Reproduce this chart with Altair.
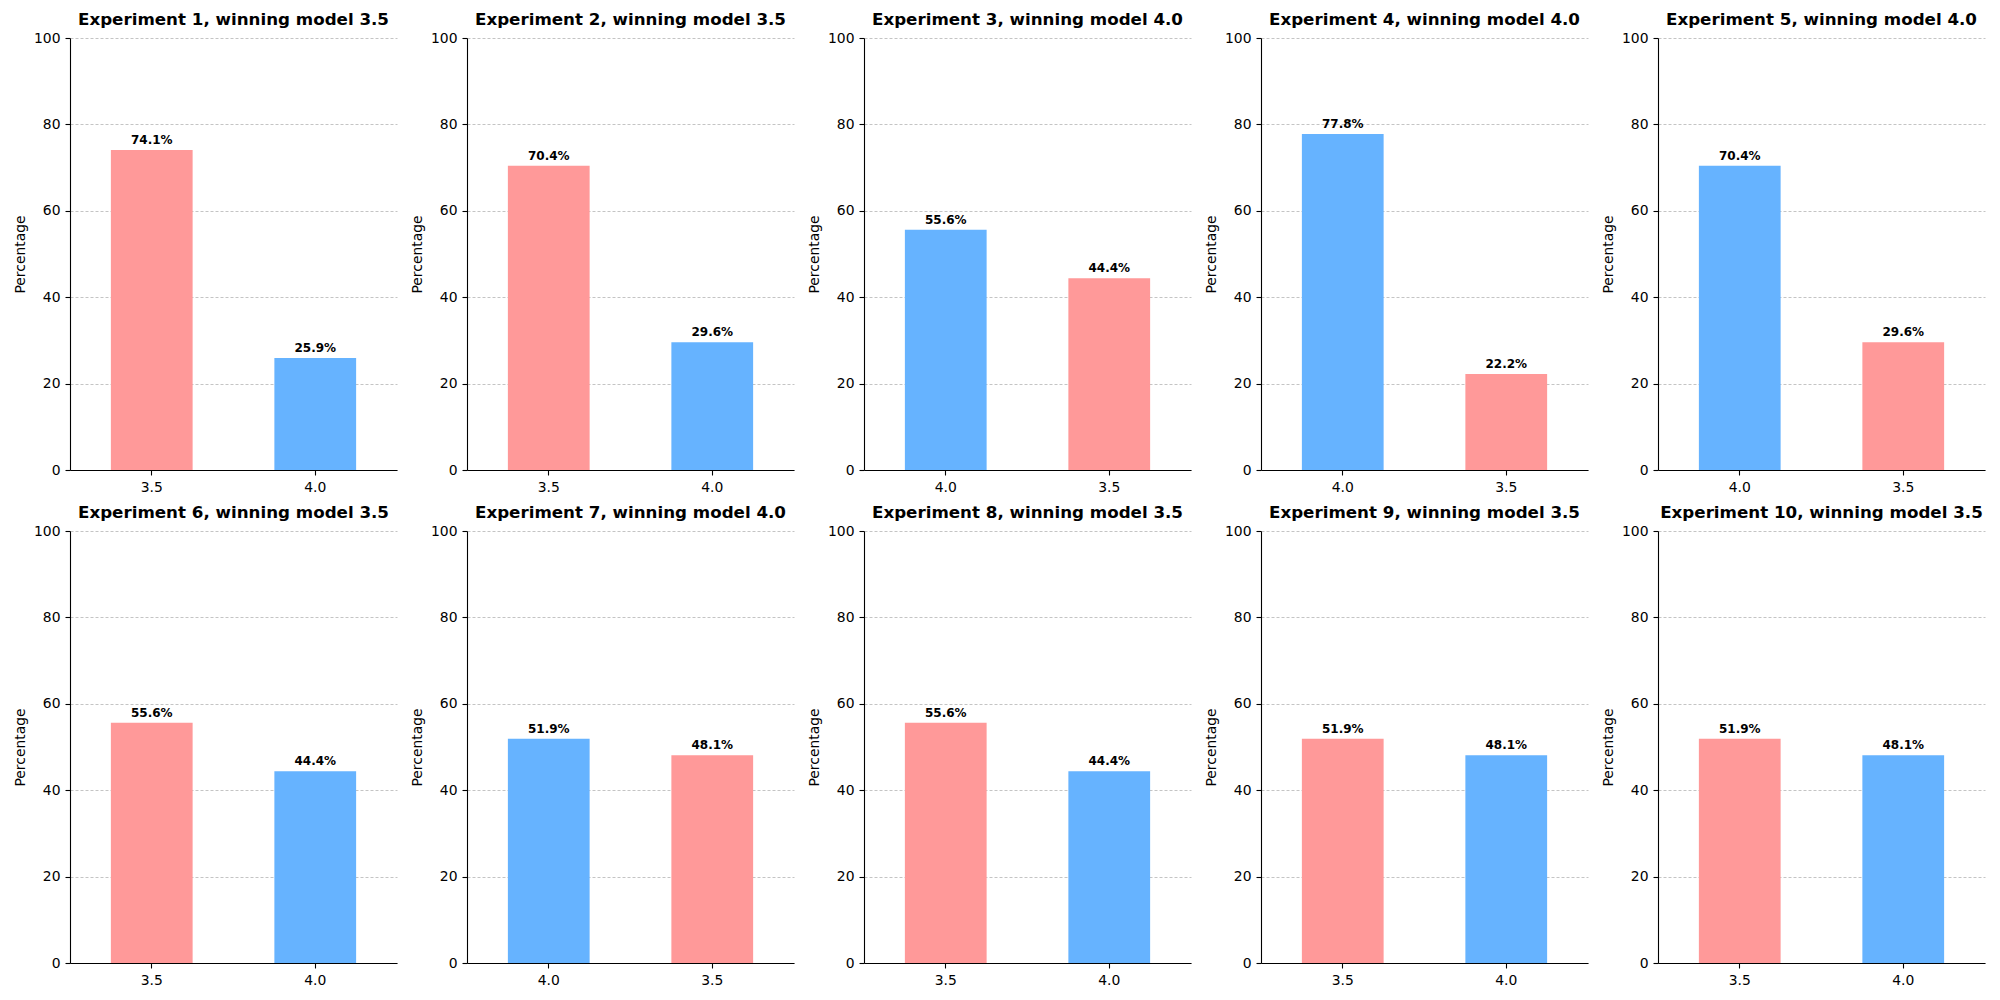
import altair as alt
import pandas as pd

experiments = list(range(1, 11))
winners = ["3.5", "3.5", "4.0", "4.0", "4.0", "3.5", "4.0", "3.5", "3.5", "3.5"]
pct_35 = [74.1, 70.4, 44.4, 22.2, 29.6, 55.6, 48.1, 55.6, 51.9, 51.9]
pct_40 = [25.9, 29.6, 55.6, 77.8, 70.4, 44.4, 51.9, 44.4, 48.1, 48.1]

models = ["3.5", "4.0"]
colors = ["#ff9999", "#66b3ff"]
FONT = "DejaVu Sans"


def panel(i):
    vals = {"3.5": pct_35[i], "4.0": pct_40[i]}
    order = sorted(models, key=lambda m: -vals[m])
    df = pd.DataFrame({"model": order, "pct": [vals[m] for m in order]})
    base = alt.Chart(df).encode(
        x=alt.X("model:N", sort=order, title=None,
                scale=alt.Scale(paddingInner=0.5, paddingOuter=0.25),
                axis=alt.Axis(labelAngle=0, grid=False)),
        y=alt.Y("pct:Q", title="Percentage",
                scale=alt.Scale(domain=[0, 100], nice=False),
                axis=alt.Axis(values=[0, 20, 40, 60, 80, 100], grid=True)),
    )
    bars = base.mark_bar().encode(
        color=alt.Color("model:N", scale=alt.Scale(domain=models, range=colors), legend=None)
    )
    text = base.transform_calculate(
        lab="format(datum.pct, '.1f') + '%'"
    ).mark_text(fontWeight="bold", fontSize=12, font=FONT, dy=-6,
                baseline="alphabetic", color="black").encode(text="lab:N")
    return (bars + text).properties(
        width=327, height=432,
        title=f"Experiment {experiments[i]}, winning model {winners[i]}",
    )


chart = alt.concat(
    *[panel(i) for i in range(10)], columns=5,
    spacing={"row": 61, "column": 70}, bounds="flush"
).properties(
    padding={"left": 5, "top": 4, "right": 5, "bottom": 5}
).configure_view(stroke=None).configure_axis(
    labelFont=FONT, titleFont=FONT, labelFontSize=13.9, titleFontSize=13.9,
    labelColor="black", titleColor="black", titleFontWeight="normal",
    domainColor="black", domainWidth=1.1, tickColor="black", tickSize=5,
    tickWidth=1.1, labelPadding=5,
    gridColor="#c4c4c4", gridDash=[3, 2], gridWidth=1,
).configure_axisY(titlePadding=6).configure_title(
    font=FONT, fontSize=16.7, fontWeight="bold", color="black", offset=2,
    anchor="middle"
)

chart.save("out.html", embed_options={"renderer": "svg", "actions": False})
